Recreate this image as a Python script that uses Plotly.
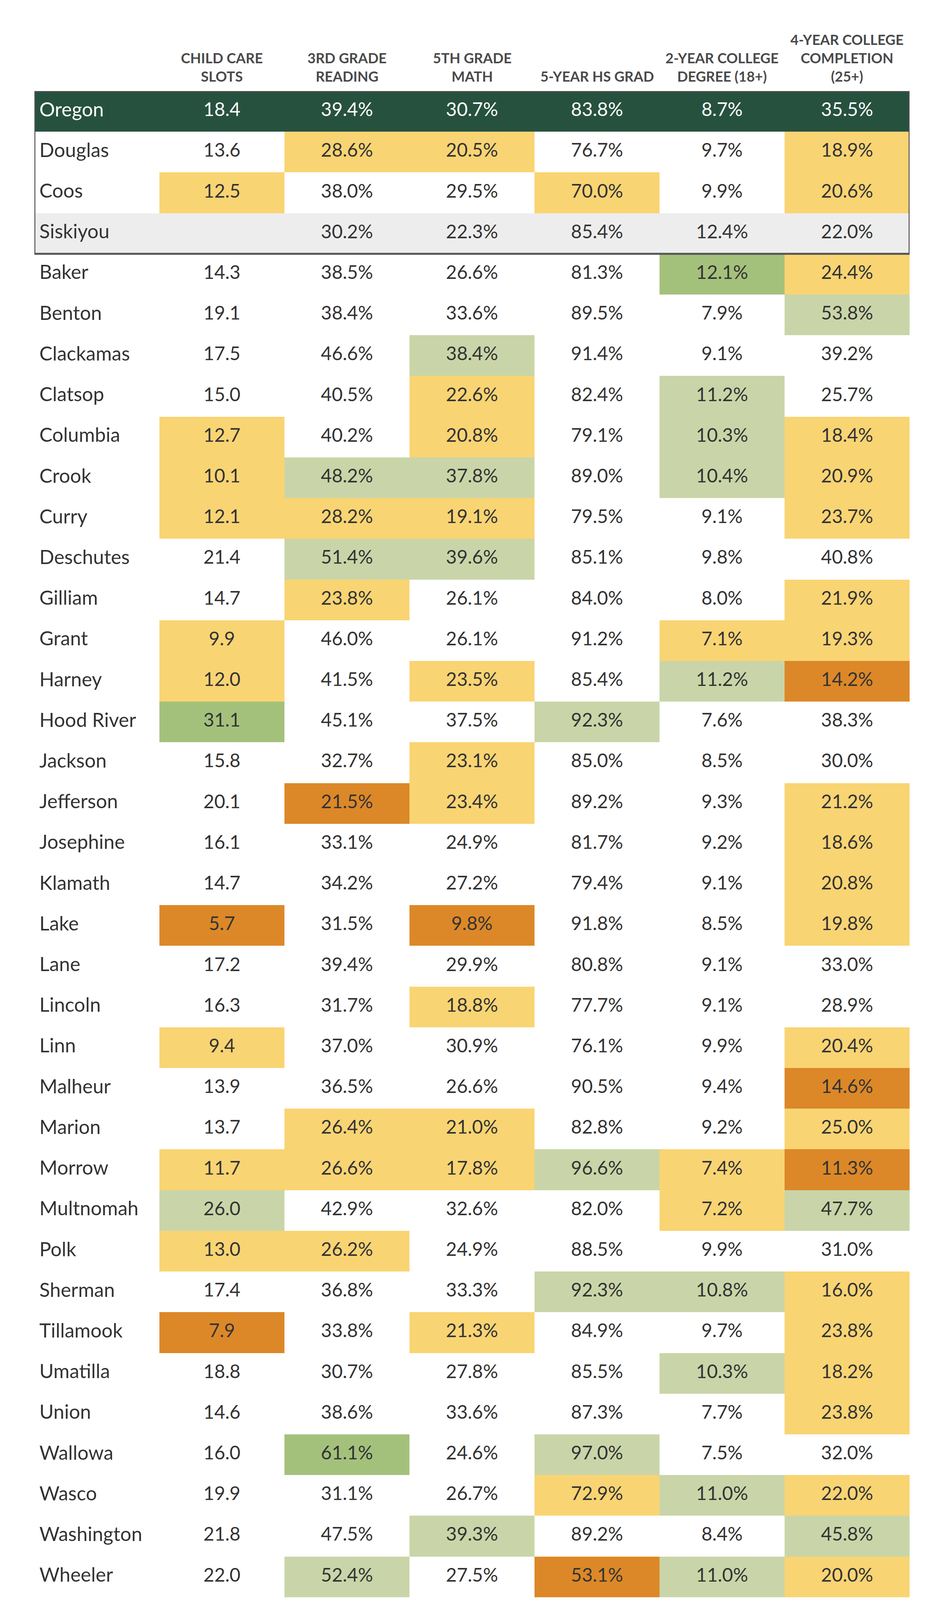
import plotly.graph_objects as go

counties = ["Oregon","Douglas","Coos","Siskiyou","Baker","Benton","Clackamas","Clatsop","Columbia","Crook",
            "Curry","Deschutes","Gilliam","Grant","Harney","Hood River","Jackson","Jefferson","Josephine","Klamath",
            "Lake","Lane","Lincoln","Linn","Malheur","Marion","Morrow","Multnomah","Polk","Sherman",
            "Tillamook","Umatilla","Union","Wallowa","Wasco","Washington","Wheeler","Yamhill"]
headers = ["CHILD CARE<br>SLOTS","3RD GRADE<br>READING","5TH GRADE<br>MATH","5-YEAR HS GRAD",
           "2-YEAR COLLEGE<br>DEGREE (18+)","4-YEAR COLLEGE<br>COMPLETION<br>(25+)"]

child_care = [18.4,13.6,12.5,None,14.3,19.1,17.5,15.0,12.7,10.1,12.1,21.4,14.7,9.9,12.0,31.1,15.8,20.1,16.1,14.7,
              5.7,17.2,16.3,9.4,13.9,13.7,11.7,26.0,13.0,17.4,7.9,18.8,14.6,16.0,19.9,21.8,22.0,15.2]
reading = [39.4,28.6,38.0,30.2,38.5,38.4,46.6,40.5,40.2,48.2,28.2,51.4,23.8,46.0,41.5,45.1,32.7,21.5,33.1,34.2,
           31.5,39.4,31.7,37.0,36.5,26.4,26.6,42.9,26.2,36.8,33.8,30.7,38.6,61.1,31.1,47.5,52.4,38.0]
math = [30.7,20.5,29.5,22.3,26.6,33.6,38.4,22.6,20.8,37.8,19.1,39.6,26.1,26.1,23.5,37.5,23.1,23.4,24.9,27.2,
        9.8,29.9,18.8,30.9,26.6,21.0,17.8,32.6,24.9,33.3,21.3,27.8,33.6,24.6,26.7,39.3,27.5,29.3]
hs_grad = [83.8,76.7,70.0,85.4,81.3,89.5,91.4,82.4,79.1,89.0,79.5,85.1,84.0,91.2,85.4,92.3,85.0,89.2,81.7,79.4,
           91.8,80.8,77.7,76.1,90.5,82.8,96.6,82.0,88.5,92.3,84.9,85.5,87.3,97.0,72.9,89.2,53.1,89.3]
two_year = [8.7,9.7,9.9,12.4,12.1,7.9,9.1,11.2,10.3,10.4,9.1,9.8,8.0,7.1,11.2,7.6,8.5,9.3,9.2,9.1,
            8.5,9.1,9.1,9.9,9.4,9.2,7.4,7.2,9.9,10.8,9.7,10.3,7.7,7.5,11.0,8.4,11.0,8.1]
four_year = [35.5,18.9,20.6,22.0,24.4,53.8,39.2,25.7,18.4,20.9,23.7,40.8,21.9,19.3,14.2,38.3,30.0,21.2,18.6,20.8,
             19.8,33.0,28.9,20.4,14.6,25.0,11.3,47.7,31.0,16.0,23.8,18.2,23.8,32.0,22.0,45.8,20.0,29.3]

# per-row cell categories (CC, Read, Math, HS, 2Y, 4Y):
# w=white, y=yellow, o=orange, l=light green, g=green, d=dark (state), s=grey (Siskiyou)
row_cats = ["dddddd","wyywwy","ywwywy","ssssss","wwwwgy","wwwwwl","wwlwww","wwywlw","ywywly","yllwly",
            "yyywwy","wllwww","wywwwy","ywwwyy","ywywlo","gwwlww","wwywww","woywwy","wwwwwy","wwwwwy",
            "owowwy","wwwwww","wwywww","ywwwwy","wwwwwo","wyywwy","yyylyo","lwwwyl","yywwww","wwwlly",
            "owywwy","wwwwly","wwwwwy","wgwlww","wwwyly","wwlwwl","wlwoly","wwwwww"]

columns_vals = [child_care, reading, math, hs_grad, two_year, four_year]
pct = [False, True, True, True, True, True]

code = {"w":0,"y":1,"o":2,"l":3,"g":4,"d":5,"s":6}
colors = ["#FFFFFF","#F9D473","#DC8828","#C9D5A8","#A4C17C","#27513F","#EDEDED"]
cs = []
for i, c in enumerate(colors):
    cs += [[i/7, c], [(i+1)/7, c]]
cs[-1][0] = 1.0

n = len(counties)
z = []
for r in range(n):
    cats = row_cats[r]
    first = cats[0] if cats[0] in "ds" else "w"
    z.append([code[first]] + [code[ch] for ch in cats])

fig = go.Figure()
fig.add_trace(go.Heatmap(z=z, x=list(range(7)), y=list(range(n)), colorscale=cs, zmin=-0.0001, zmax=6.9999,
                         showscale=False, hoverinfo="skip"))

FONT = "Lato"
for group, color in [([0], "#FFFFFF"), ([r for r in range(1, n)], "#333333")]:
    xs, ys, ts = [], [], []
    for r in group:
        for c in range(6):
            v = columns_vals[c][r]
            if v is None:
                continue
            xs.append(c+1); ys.append(r)
            ts.append(f"{v:.1f}%" if pct[c] else f"{v:.1f}")
    fig.add_trace(go.Scatter(x=xs, y=ys, text=ts, mode="text", textposition="middle center",
                             textfont=dict(family=FONT, size=48, color=color), hoverinfo="skip"))
    fig.add_trace(go.Scatter(x=[-0.46]*len(group), y=group, text=[counties[r] for r in group], mode="text",
                             textposition="middle right", textfont=dict(family=FONT, size=50, color=color),
                             hoverinfo="skip"))

for i, h in enumerate(headers):
    fig.add_annotation(x=i+1, y=-0.5, yref="y", xref="x", text=f"<b>{h}</b>", showarrow=False,
                       yanchor="bottom", yshift=14, font=dict(family=FONT, size=36, color="#4A4A4A"),
                       align="center")

fig.add_shape(type="rect", x0=-0.5, x1=6.5, y0=-0.5, y1=3.5, xref="x", yref="y",
              line=dict(color="#555555", width=5))

W, H = 2370, 4224
fig.update_layout(width=W, height=H, margin=dict(l=0, r=0, t=0, b=0), plot_bgcolor="white",
                  paper_bgcolor="white", showlegend=False,
                  xaxis=dict(domain=[80/W, 2320/W], range=[-0.5, 6.5], visible=False, fixedrange=True),
                  yaxis=dict(domain=[(H-4185)/H, (H-225)/H], range=[n-0.5, -0.5], visible=False, fixedrange=True))
fig.write_html("out.html")
